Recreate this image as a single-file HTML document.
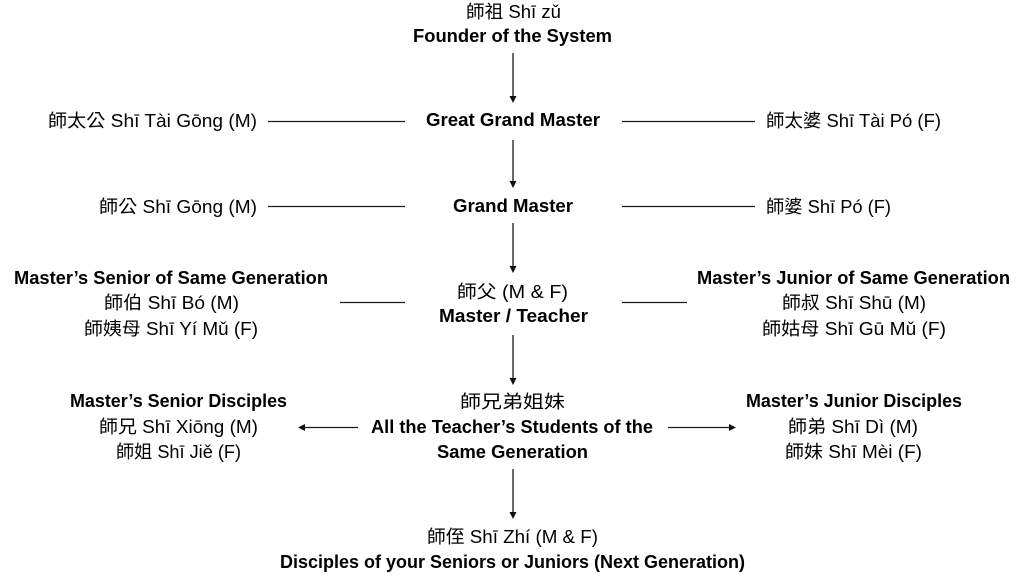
<!DOCTYPE html>
<html><head><meta charset="utf-8"><style>
html,body{margin:0;padding:0;background:#fff;}
svg{display:block;}
text{font-family:"Liberation Sans","Noto Sans CJK TC","Noto Sans CJK SC",sans-serif;font-size:18px;fill:#000;}
.b{font-weight:bold;}
</style></head><body>
<svg width="1024" height="576" viewBox="0 0 1024 576" xmlns="http://www.w3.org/2000/svg">
<g stroke="#1a1a1a" stroke-width="1.3" fill="none">
<line x1="513" y1="53" x2="513" y2="97"/>
<line x1="513" y1="140" x2="513" y2="182"/>
<line x1="513" y1="223" x2="513" y2="267"/>
<line x1="513" y1="335" x2="513" y2="379"/>
<line x1="513" y1="469" x2="513" y2="513"/>
<line x1="268" y1="121.5" x2="405" y2="121.5"/>
<line x1="622" y1="121.5" x2="755" y2="121.5"/>
<line x1="268" y1="206.5" x2="405" y2="206.5"/>
<line x1="622" y1="206.5" x2="755" y2="206.5"/>
<line x1="340" y1="302.5" x2="405" y2="302.5"/>
<line x1="622" y1="302.5" x2="687" y2="302.5"/>
<line x1="304" y1="427.5" x2="358" y2="427.5"/>
<line x1="668" y1="427.5" x2="730" y2="427.5"/>
</g>
<g fill="#111">
<polygon points="513,103 509.5,96 516.5,96"/>
<polygon points="513,188 509.5,181 516.5,181"/>
<polygon points="513,273 509.5,266 516.5,266"/>
<polygon points="513,385 509.5,378 516.5,378"/>
<polygon points="513,519 509.5,512 516.5,512"/>
<polygon points="298,427.5 305,424 305,431"/>
<polygon points="736,427.5 729,424 729,431"/>
</g>

<text x="466" y="18" textLength="95" lengthAdjust="spacingAndGlyphs">師祖 Shī zǔ</text>
<text class="b" x="413" y="42" textLength="199" lengthAdjust="spacingAndGlyphs">Founder of the System</text>

<text class="b" x="426" y="126" textLength="174" lengthAdjust="spacingAndGlyphs">Great Grand Master</text>
<text x="48" y="127" textLength="209" lengthAdjust="spacingAndGlyphs">師太公 Shī Tài Gōng (M)</text>
<text x="766" y="127" textLength="175" lengthAdjust="spacingAndGlyphs">師太婆 Shī Tài Pó (F)</text>

<text class="b" x="453" y="212" textLength="120" lengthAdjust="spacingAndGlyphs">Grand Master</text>
<text x="99" y="213" textLength="158" lengthAdjust="spacingAndGlyphs">師公 Shī Gōng (M)</text>
<text x="766" y="213" textLength="125" lengthAdjust="spacingAndGlyphs">師婆 Shī Pó (F)</text>

<text x="457" y="298" textLength="111" lengthAdjust="spacingAndGlyphs">師父 (M &amp; F)</text>
<text class="b" x="439" y="322" textLength="149" lengthAdjust="spacingAndGlyphs">Master / Teacher</text>

<text class="b" x="14" y="284" textLength="314" lengthAdjust="spacingAndGlyphs">Master’s Senior of Same Generation</text>
<text x="104" y="309" textLength="135" lengthAdjust="spacingAndGlyphs">師伯 Shī Bó (M)</text>
<text x="84" y="335" textLength="174" lengthAdjust="spacingAndGlyphs">師姨母 Shī Yí Mǔ (F)</text>

<text class="b" x="697" y="284" textLength="313" lengthAdjust="spacingAndGlyphs">Master’s Junior of Same Generation</text>
<text x="782" y="309" textLength="144" lengthAdjust="spacingAndGlyphs">師叔 Shī Shū (M)</text>
<text x="762" y="335" textLength="184" lengthAdjust="spacingAndGlyphs">師姑母 Shī Gū Mǔ (F)</text>

<text x="460" y="408" textLength="105" lengthAdjust="spacingAndGlyphs">師兄弟姐妹</text>
<text class="b" x="371" y="433" textLength="282" lengthAdjust="spacingAndGlyphs">All the Teacher’s Students of the</text>
<text class="b" x="437" y="458" textLength="151" lengthAdjust="spacingAndGlyphs">Same Generation</text>

<text class="b" x="70" y="407" textLength="217" lengthAdjust="spacingAndGlyphs">Master’s Senior Disciples</text>
<text x="99" y="433" textLength="159" lengthAdjust="spacingAndGlyphs">師兄 Shī Xiōng (M)</text>
<text x="116" y="458" textLength="125" lengthAdjust="spacingAndGlyphs">師姐 Shī Jiě (F)</text>

<text class="b" x="746" y="407" textLength="216" lengthAdjust="spacingAndGlyphs">Master’s Junior Disciples</text>
<text x="788" y="433" textLength="130" lengthAdjust="spacingAndGlyphs">師弟 Shī Dì (M)</text>
<text x="785" y="458" textLength="137" lengthAdjust="spacingAndGlyphs">師妹 Shī Mèi (F)</text>

<text x="427" y="543" textLength="171" lengthAdjust="spacingAndGlyphs">師侄 Shī Zhí (M &amp; F)</text>
<text class="b" x="280" y="568" textLength="465" lengthAdjust="spacingAndGlyphs">Disciples of your Seniors or Juniors (Next Generation)</text>
</svg>
</body></html>
